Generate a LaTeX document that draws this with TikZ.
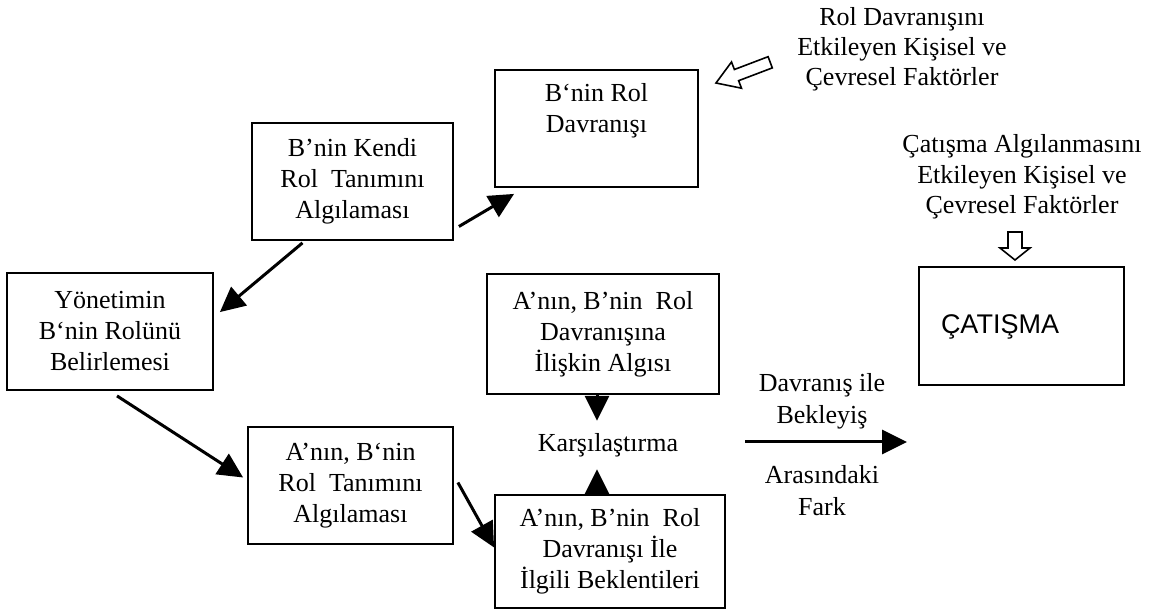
\documentclass[tikz,border=0pt]{standalone}
\usepackage{fontspec}
\setmainfont{Liberation Serif}
\newfontfamily\sansf{Liberation Sans}
\usetikzlibrary{arrows.meta}
\begin{document}
\begin{tikzpicture}[x=0.5pt,y=-0.5pt,
  txt/.style={align=center, inner sep=0pt, font=\fontsize{13}{15.5}\selectfont},
  box/.style={txt, draw, line width=0.9pt},
  conn/.style={line width=1.5pt, -{Triangle[length=12.5pt,width=12pt]}},
  hollow/.style={draw, line width=0.8pt, fill=white, line join=miter}]
\useasboundingbox (0,0) rectangle (1158,614);

% boxes
\node[box, minimum width=101.5pt, minimum height=58.5pt] (rol) at (596.5,128.5) {B`nin Rol\\Davranışı\\\strut};
\node[box, minimum width=100.5pt, minimum height=58.5pt] (kendi) at (352.5,181.5) {B’nin Kendi\\Rol\ \ Tanımını\\Algılaması};
\node[box, minimum width=103pt, minimum height=58.5pt] (yon) at (110,331.5) {Yönetimin\\B`nin Rolünü\\Belirlemesi};
\node[box, minimum width=116pt, minimum height=60pt] (ilis) at (603,334) {A’nın, B’nin\ \ Rol\\Davranışına\\İlişkin Algısı};
\node[box, minimum width=102.5pt, minimum height=58.5pt] (tanim) at (350.5,485.5) {A’nın, B`nin\\Rol\ \ Tanımını\\Algılaması};
\node[box, minimum width=115pt, minimum height=56.5pt] (bekl) at (610,551.5) {A’nın, B’nin\ \ Rol\\Davranışı İle\\İlgili Beklentileri};
\node[box, minimum width=102.5pt, minimum height=59pt] (cat) at (1021.5,326) {};
\node[inner sep=0pt, font=\sansf\fontsize{13.5}{16}\selectfont] (cattxt) at (1000,327) {ÇATIŞMA};

% free texts
\node[txt, font=\fontsize{13}{15}\selectfont] (rolfak) at (902,49) {Rol Davranışını\\Etkileyen Kişisel ve\\Çevresel Faktörler};
\node[txt, font=\fontsize{13}{15.25}\selectfont] (catfak) at (1022,177) {Çatışma Algılanmasını\\Etkileyen Kişisel ve\\Çevresel Faktörler};
\node[txt, inner ysep=6pt] (karsi) at (608,445) {Karşılaştırma};
\node[txt, font=\fontsize{13}{16}\selectfont] (davr) at (822,401) {Davranış ile\\Bekleyiş};
\node[txt, font=\fontsize{13}{16}\selectfont] (aras) at (822,491) {Arasındaki\\Fark};

% connectors
\draw[conn] ([shift={(5,45)}]kendi.east) -- ([shift={(20,6)}]rol.south west);
\draw[conn] ([shift={(-50,2)}]kendi.south) -- ([shift={(6,40)}]yon.north east);
\draw[conn] ([shift={(7,5)}]yon.south) -- ([shift={(-4,-8)}]tanim.west);
\draw[conn] ([shift={(4,-3)}]tanim.east) -- ([shift={(0,-4)}]bekl.west);
\coordinate (ax) at (597,0);
\draw[conn] (ilis.south -| ax) -- (karsi.north -| ax);
\draw[conn] (bekl.north -| ax) -- (karsi.south -| ax);
\coordinate (d1) at (745,442);
\coordinate (d2) at (907,442);
\draw[conn] (d1) -- (d2);

% hollow arrows
\draw[hollow] (716,83) -- (741.5,88.2) -- (738.6,80.7) -- (772.3,67.9) -- (768.1,56.7) -- (734.4,69.5) -- (731.5,62.0) -- cycle;
\draw[hollow] (1008,232) -- (1022,232) -- (1022,248) -- (1030,248) -- (1015,260) -- (1000,248) -- (1008,248) -- cycle;
\end{tikzpicture}
\end{document}
